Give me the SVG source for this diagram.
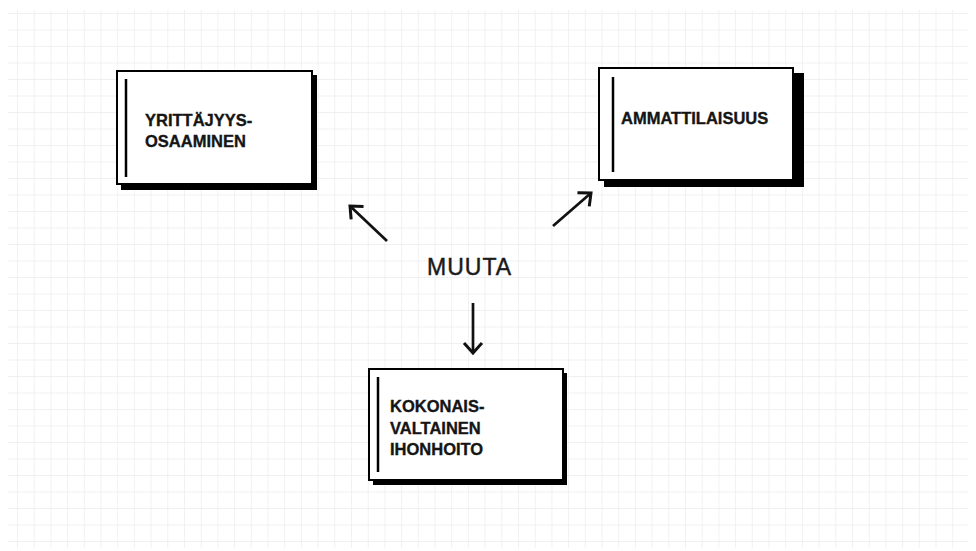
<svg xmlns="http://www.w3.org/2000/svg" width="976" height="551" viewBox="0 0 976 551">
  <defs>
    <pattern id="grid" x="17" y="13" width="16.7" height="16.5" patternUnits="userSpaceOnUse">
      <path d="M0,0 V16.5 M0,0 H16.7" fill="none" stroke="#ececec" stroke-width="1.4"/>
    </pattern>
    <marker id="head" markerWidth="24" markerHeight="24" viewBox="-14 -12 24 24" refX="0" refY="0" orient="auto" markerUnits="userSpaceOnUse">
      <path d="M-9,-8 L0,0 L-9,8" fill="none" stroke="#111" stroke-width="3" stroke-linecap="square"/>
    </marker>
    <style>
      .shadow { fill: #000; }
      .card { fill: #fff; stroke: #000; stroke-width: 2; }
      .bar { stroke: #000; stroke-width: 2.5; }
      .label { font-family: "Liberation Sans", Arial, sans-serif; font-weight: bold; font-size: 16.5px; fill: #151515; stroke: #151515; stroke-width: 0.35; }
      .center { font-family: "Liberation Sans", Arial, sans-serif; font-size: 23px; letter-spacing: 1px; fill: #1a1a1a; stroke: #1a1a1a; stroke-width: 0.45; }
      .arrow { fill: none; stroke: #111; stroke-width: 2.7; marker-end: url(#head); }
    </style>
  </defs>

  <!-- paper background with grid -->
  <rect width="976" height="551" fill="#fff"/>
  <rect x="8" y="10" width="960" height="538" fill="url(#grid)"/>

  <g id="yrittajyys">
    <rect class="shadow" x="121" y="75" width="196" height="115"/>
    <rect class="card" x="117" y="71" width="195" height="113"/>
    <line class="bar" x1="126" y1="79" x2="126" y2="177"/>
    <text class="label" x="145" y="125.5">YRITTÄJYYS-</text>
    <text class="label" x="145" y="146.5">OSAAMINEN</text>
  </g>

  <g id="ammattilaisuus">
    <rect class="shadow" x="604" y="73" width="200" height="114"/>
    <rect class="card" x="599" y="68" width="194" height="112"/>
    <line class="bar" x1="613" y1="77" x2="613" y2="172"/>
    <text class="label" x="621" y="124">AMMATTILAISUUS</text>
  </g>

  <g id="ihonhoito">
    <rect class="shadow" x="373" y="373" width="194" height="112"/>
    <rect class="card" x="369" y="369" width="194" height="111"/>
    <line class="bar" x1="378" y1="377" x2="378" y2="472"/>
    <text class="label" x="390" y="412">KOKONAIS-</text>
    <text class="label" x="390" y="434">VALTAINEN</text>
    <text class="label" x="390" y="455">IHONHOITO</text>
  </g>

  <g id="muuta">
    <text class="center" x="427" y="275">MUUTA</text>
  </g>

  <g id="connectors">
    <line class="arrow" x1="387" y1="241" x2="350" y2="206"/>
    <line class="arrow" x1="553" y1="226" x2="591" y2="193"/>
    <line class="arrow" x1="473" y1="303" x2="473" y2="353"/>
  </g>
</svg>
